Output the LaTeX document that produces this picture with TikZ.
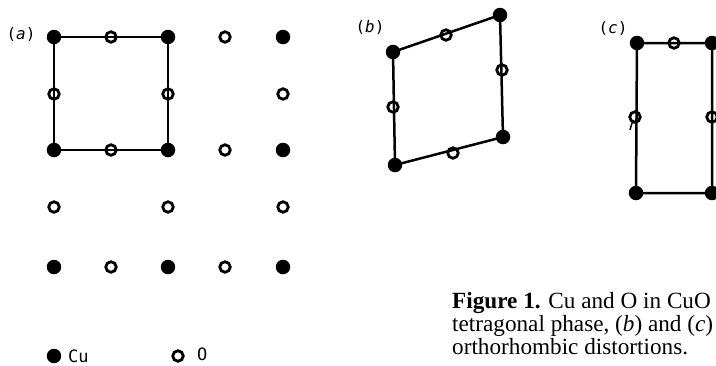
\documentclass[tikz,border=0pt]{standalone}
\usepackage{fontspec}
\setmainfont{Liberation Serif}
\newfontfamily\lblfont{DejaVu Sans Mono}
\begin{document}
\begin{tikzpicture}[x=1pt,y=-1pt,
  cu/.style={circle,fill=black,inner sep=0pt,minimum size=14.5pt},
  ox/.style={circle,draw=black,line width=2.8pt,inner sep=0pt,minimum size=10.5pt},
  frameline/.style={line width=2.5pt},
  lbl/.style={font=\lblfont\fontsize{16}{18}\selectfont,inner sep=0pt},
  legtext/.style={font=\lblfont\fontsize{17}{19}\selectfont,inner sep=0pt,anchor=base west},
  captext/.style={font=\fontsize{23.2}{23.5}\selectfont,inner sep=0pt,anchor=base west}]
\useasboundingbox (0,0) rectangle (716,365);
\clip (0,0) rectangle (716,365);
% ---- panel (a)
\node[lbl] (la) at (21,34) {(\textit{a})};
% row 1
\node[cu] (a11) at (54,37) {};
\node[ox] (a12) at (111,37) {};
\node[cu] (a13) at (168,37) {};
\node[ox] (a14) at (225,37) {};
\node[cu] (a15) at (283,37) {};
% row 2
\node[ox] (a21) at (54,94) {};
\node[ox] (a23) at (168,94) {};
\node[ox] (a25) at (283,94) {};
% row 3
\node[cu] (a31) at (54,150) {};
\node[ox] (a32) at (111,150) {};
\node[cu] (a33) at (168,150) {};
\node[ox] (a34) at (225,150) {};
\node[cu] (a35) at (283,150) {};
% row 4
\node[ox] (a41) at (54,207) {};
\node[ox] (a43) at (168,207) {};
\node[ox] (a45) at (283,207) {};
% row 5
\node[cu] (a51) at (54,267) {};
\node[ox] (a52) at (111,267) {};
\node[cu] (a53) at (168,267) {};
\node[ox] (a54) at (225,267) {};
\node[cu] (a55) at (283,267) {};
\draw[frameline] (a11.center) -- (a13.center) -- (a33.center) -- (a31.center) -- cycle;
% legend
\node[cu] (lcu) at (54,356) {};
\node[legtext] (tcu) at (68,362) {Cu};
\node[ox] (lo) at (178,356) {};
\node[legtext] (to) at (197,360) {O};
% ---- panel (b)
\node[lbl] (lb) at (370,27) {(\textit{b})};
\node[cu] (b1) at (393,52) {};
\node[ox] (b2) at (446,35) {};
\node[cu] (b3) at (500,15) {};
\node[ox] (b4) at (502,70) {};
\node[cu] (b5) at (503,137) {};
\node[ox] (b6) at (453,153) {};
\node[cu] (b7) at (395,165) {};
\node[ox] (b8) at (393,107) {};
\draw[frameline] (b1.center) -- (b3.center) -- (b5.center) -- (b7.center) -- cycle;
% ---- panel (c)
\node[lbl] (lc) at (613,28) {(\textit{c})};
\node[cu] (c1) at (637,43) {};
\node[ox] (c2) at (674,43) {};
\node[cu] (c3) at (712,43) {};
\node[ox] (c4) at (712,117) {};
\node[cu] (c5) at (712,193) {};
\node[cu] (c7) at (636,193) {};
\node[ox] (c8) at (635,117) {};
\draw[frameline] (c1.center) -- (c3.center) -- (c5.center) -- (c7.center) -- cycle;
\draw[line width=1.5pt] (630,130) -- (632,123) -- (635,122);
% ---- caption
\node[captext] (cap1) at (452,308) {\textbf{Figure 1.} Cu and O in CuO};
\node[captext] (cap2) at (452,331) {tetragonal phase, (\textit{b}) and (\textit{c})};
\node[captext] (cap3) at (452,354) {orthorhombic distortions.};
\end{tikzpicture}
\end{document}
